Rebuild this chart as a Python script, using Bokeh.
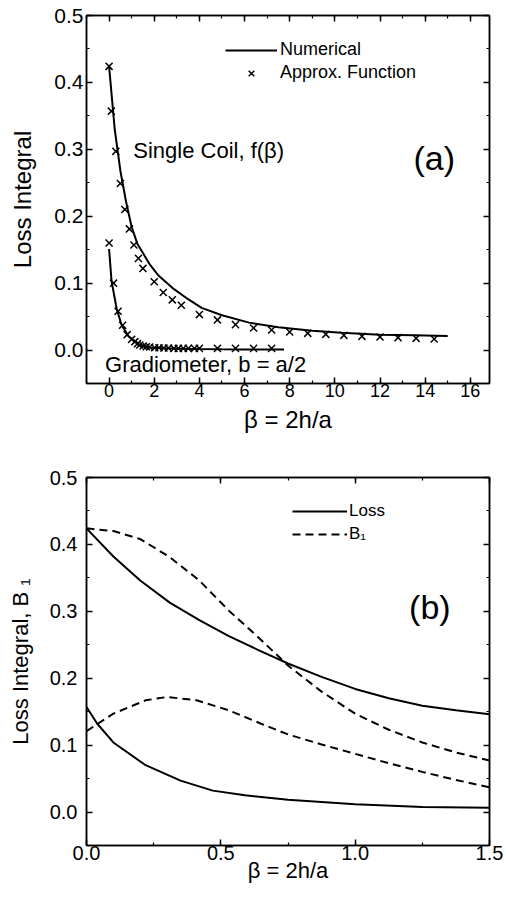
from bokeh.plotting import figure
from bokeh.models import (Label, Legend, LegendItem, LinearAxis, SingleIntervalTicker,
                          PrintfTickFormatter, CustomJSTickFormatter, Range1d)
from bokeh.layouts import column
from bokeh.embed import file_html
from bokeh.resources import INLINE

# ---------------- data: panel (a) ----------------
single_num_x = [0, 0.25, 0.5, 0.75, 1.0, 1.25, 1.5, 1.8, 2.2, 2.8, 3.5, 4.1, 5.0, 6.2, 7.5, 9.0, 10.3, 12.0, 13.5, 15.0]
single_num_y = [0.424, 0.33, 0.268, 0.222, 0.184, 0.159, 0.145, 0.128, 0.111, 0.093, 0.076, 0.063, 0.052, 0.041,
                0.034, 0.029, 0.026, 0.023, 0.022, 0.021]
single_apx_x = [0, 0.1, 0.3, 0.5, 0.7, 0.9, 1.1, 1.3, 1.5, 2.0, 2.4, 2.8, 3.2, 4.0, 4.8, 5.6, 6.4, 7.2, 8.0, 8.8,
                9.6, 10.4, 11.2, 12.0, 12.8, 13.6, 14.4]
single_apx_y = [0.424, 0.357, 0.297, 0.249, 0.21, 0.181, 0.157, 0.137, 0.122, 0.102, 0.086, 0.075, 0.067, 0.053,
                0.045, 0.038, 0.033, 0.030, 0.027, 0.025, 0.0235, 0.022, 0.0205, 0.0195, 0.0185, 0.0175, 0.0165]
grad_num_x = [0, 0.11, 0.34, 0.55, 0.85, 1.29, 1.87, 2.5, 3.2, 4.0, 5.0, 6.0, 7.0, 7.75]
grad_num_y = [0.151, 0.103, 0.061, 0.038, 0.021, 0.0085, 0.0035, 0.0025, 0.002, 0.0015, 0.0012, 0.001, 0.001, 0.001]
grad_apx_x = [0, 0.2, 0.4, 0.6, 0.8, 1.0, 1.14, 1.26, 1.36, 1.51, 1.65, 1.8, 2.02, 2.21, 2.43, 2.63, 2.87, 3.07,
              3.29, 3.51, 3.78, 4.0, 4.8, 5.6, 6.4, 7.2]
grad_apx_y = [0.16, 0.10, 0.058, 0.037, 0.023, 0.016, 0.0125, 0.0095, 0.0075, 0.006, 0.005, 0.0045, 0.0035, 0.0035,
              0.003, 0.003, 0.0025, 0.0025, 0.0025, 0.0025, 0.0025, 0.0025, 0.0025, 0.0025, 0.0025, 0.0025]

# ---------------- data: panel (b) ----------------
b_x = [0, 0.1, 0.2, 0.31, 0.42, 0.53, 0.64, 0.75, 0.875, 1.0, 1.125, 1.25, 1.375, 1.5]
loss_single_y = [0.424, 0.382, 0.346, 0.313, 0.287, 0.263, 0.242, 0.222, 0.202, 0.184, 0.170, 0.159, 0.152, 0.146]
b1_single_y = [0.424, 0.42, 0.408, 0.381, 0.346, 0.301, 0.261, 0.219, 0.180, 0.147, 0.123, 0.104, 0.089, 0.077]
loss_grad_x = [0, 0.04, 0.1, 0.22, 0.35, 0.47, 0.59, 0.75, 1.0, 1.25, 1.5]
loss_grad_y = [0.157, 0.132, 0.104, 0.070, 0.047, 0.032, 0.025, 0.0185, 0.0115, 0.0075, 0.0065]
b1_grad_x = [0, 0.1, 0.22, 0.3, 0.41, 0.53, 0.65, 0.75, 0.875, 1.0, 1.125, 1.25, 1.375, 1.5]
b1_grad_y = [0.121, 0.147, 0.167, 0.172, 0.167, 0.152, 0.132, 0.116, 0.101, 0.087, 0.073, 0.060, 0.048, 0.037]

FONT = "Liberation Sans"


def style_axis(ax, interval, fmt, labels=True, label_size="19px", title_size="22px"):
    ax.ticker = SingleIntervalTicker(interval=interval, num_minor_ticks=2)
    ax.axis_line_color = "black"
    ax.axis_line_width = 1.5
    ax.major_tick_line_color = "black"
    ax.major_tick_line_width = 1.5
    ax.minor_tick_line_color = "black"
    ax.minor_tick_line_width = 1.2
    ax.major_tick_in = 6
    ax.major_tick_out = 0
    ax.minor_tick_in = 3
    ax.minor_tick_out = 0
    ax.major_label_text_font = FONT
    ax.major_label_text_color = "black"
    ax.axis_label_text_font = FONT
    ax.axis_label_text_font_style = "normal"
    ax.axis_label_text_color = "black"
    ax.axis_label_text_font_size = title_size
    ax.major_label_text_font_size = label_size
    if labels:
        ax.formatter = PrintfTickFormatter(format=fmt)
    else:
        ax.formatter = CustomJSTickFormatter(code="return ''")
        ax.major_label_standoff = 0
        ax.axis_label = None


def base_fig(height, xr, yr, xint, xfmt, yint, mb, xsize, ysize, title_size):
    p = figure(width=506, height=height, x_range=Range1d(*xr), y_range=Range1d(*yr),
               output_backend="svg", toolbar_location=None,
               min_border_left=mb[0], min_border_right=mb[1], min_border_top=mb[2], min_border_bottom=mb[3])
    p.grid.visible = False
    p.outline_line_color = "black"
    p.outline_line_width = 1.5
    p.background_fill_color = "white"
    p.border_fill_color = "white"
    top = LinearAxis()
    right = LinearAxis()
    p.add_layout(top, "above")
    p.add_layout(right, "right")
    style_axis(p.below[0], xint, xfmt, label_size=xsize, title_size=title_size)
    style_axis(top, xint, xfmt, labels=False)
    style_axis(p.left[0], yint, "%.1f", label_size=ysize, title_size=title_size)
    style_axis(right, yint, "%.1f", labels=False)
    return p


# ---------------- panel (a) ----------------
p1 = base_fig(452, (-1, 16.85), (-0.05, 0.5), 2, "%d", 0.1, (83, 17, 15, 69), "18px", "21px", "24px")
xa1, ya1 = p1.below[0], p1.left[0]
xa1.axis_label = "β = 2h/a"
xa1.major_label_standoff = 0
xa1.axis_label_standoff = 6
ya1.axis_label = "Loss Integral"
ya1.major_label_standoff = 3
ya1.axis_label_standoff = 15

r_num = p1.line(single_num_x, single_num_y, line_color="black", line_width=2)
p1.line(grad_num_x, grad_num_y, line_color="black", line_width=2)
r_apx = p1.scatter(single_apx_x, single_apx_y, marker="x", size=10, line_color="black", line_width=1.5)
p1.scatter(grad_apx_x, grad_apx_y, marker="x", size=10, line_color="black", line_width=1.5)

leg1 = Legend(items=[LegendItem(label="Numerical", renderers=[r_num]),
                     LegendItem(label="Approx. Function", renderers=[r_apx])],
              location=(139, 300), padding=0, margin=0, spacing=2, glyph_width=52, glyph_height=20,
              label_height=20, label_standoff=3, label_text_font=FONT, label_text_font_size="18px",
              label_text_color="black", border_line_alpha=0, background_fill_alpha=0)
p1.add_layout(leg1)

p1.add_layout(Label(x=1.07, y=0.298, text="Single Coil, f(β)", text_font=FONT, text_font_size="22px",
                    text_color="black", text_baseline="middle", text_align="left"))
p1.add_layout(Label(x=-0.18, y=-0.021, text="Gradiometer, b = a/2", text_font=FONT, text_font_size="22px",
                    text_color="black", text_baseline="middle", text_align="left"))
p1.add_layout(Label(x=14.4, y=0.287, text="(a)", text_font=FONT, text_font_size="34px",
                    text_color="black", text_baseline="middle", text_align="center"))

# ---------------- panel (b) ----------------
p2 = base_fig(449, (0, 1.5), (-0.05, 0.5), 0.5, "%.1f", 0.1, (86, 13, 25, 56), "20px", "20px", "22px")
xa2, ya2 = p2.below[0], p2.left[0]
xa2.axis_label = "β = 2h/a"
xa2.major_label_standoff = 0
xa2.axis_label_standoff = -5
ya2.axis_label = "Loss Integral, B ₁"
ya2.major_label_standoff = 9
ya2.axis_label_standoff = 14

r_loss = p2.line(b_x, loss_single_y, line_color="black", line_width=2)
p2.line(loss_grad_x, loss_grad_y, line_color="black", line_width=2)
r_b1 = p2.line(b_x, b1_single_y, line_color="black", line_width=2, line_dash="8 5")
p2.line(b1_grad_x, b1_grad_y, line_color="black", line_width=2, line_dash="8 5")

leg2 = Legend(items=[LegendItem(label="Loss", renderers=[r_loss]),
                     LegendItem(label="B₁", renderers=[r_b1])],
              location=(206, 301), padding=0, margin=0, spacing=3, glyph_width=55, glyph_height=20,
              label_height=20, label_standoff=2, label_text_font=FONT, label_text_font_size="17px",
              label_text_color="black", border_line_alpha=0, background_fill_alpha=0)
p2.add_layout(leg2)

p2.add_layout(Label(x=1.278, y=0.306, text="(b)", text_font=FONT, text_font_size="34px",
                    text_color="black", text_baseline="middle", text_align="center"))

layout = column(p1, p2)
open("out.html", "w").write(file_html(layout, INLINE))
